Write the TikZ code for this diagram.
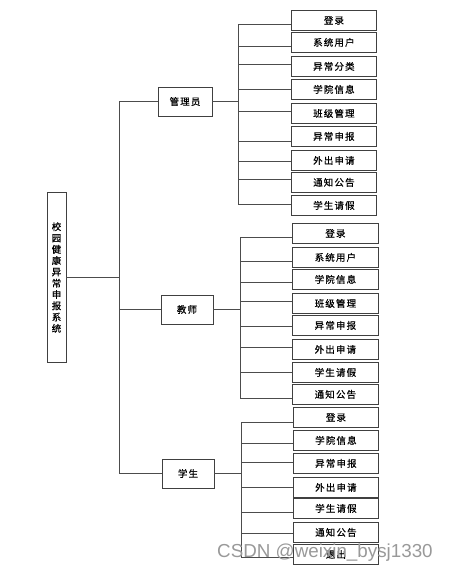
\documentclass[tikz,border=0pt]{standalone}
\usepackage{fontspec}
\setmainfont{Liberation Sans}
\newfontfamily\cjk[LetterSpace=12,FakeBold=0.6]{Noto Sans CJK SC}
\begin{document}
\begin{tikzpicture}[x=1pt,y=-1pt,
  box/.style={draw=black!75, line width=0.8pt, fill=white, inner sep=0pt,
    font=\cjk\fontsize{9.5}{11}\selectfont},
  leaf/.style={box, anchor=north west, minimum height=20pt},
  conn/.style={draw=black!70, line width=0.8pt}]
\useasboundingbox (0,0) rectangle (449,571);
% root
\node[box, minimum width=19pt, minimum height=170pt, align=center,
  font=\cjk\fontsize{9.5}{11.3}\selectfont] (root) at (56.5,277.5)
  {校\\园\\健\\康\\异\\常\\申\\报\\系\\统};
% second level
\node[box, minimum width=54pt, minimum height=29pt] (admin) at (185,101.5) {管理员};
\node[box, minimum width=52pt, minimum height=29pt] (teacher) at (187,309.5) {教师};
\node[box, minimum width=52pt, minimum height=29pt] (student) at (188,473.5) {学生};
% trunk
\coordinate (tTop) at (119,101.5);
\coordinate (tBot) at (119,473.5);
\draw[conn] (root.east) -- (root.east -| tTop);
\draw[conn] (tTop) -- (tBot);
\draw[conn] (tTop) -- (admin.west);
\draw[conn] (tTop |- teacher.west) -- (teacher.west);
\draw[conn] (tBot) -- (student.west);
% admin leaves
\foreach \i/\t/\l/\s in {1/10/24/登录, 2/32/46/系统用户, 3/56/64/异常分类, 4/79/89/学院信息,
  5/103/111/班级管理, 6/126/141/异常申报, 7/150/161/外出申请, 8/172/179/通知公告, 9/195/204/学生请假}{
  \node[leaf, minimum width=85pt] (a\i) at (291,\t) {\s};
  \coordinate (ac\i) at (238,\l);
  \draw[conn] (ac\i) -- (a\i.west |- ac\i);
}
\draw[conn] (ac1) -- (ac9);
\draw[conn] (admin.east) -- (admin.east -| ac1);
% teacher leaves
\foreach \i/\t/\l/\s in {1/223/237/登录, 2/247/261/系统用户, 3/269/282/学院信息, 4/293/301/班级管理,
  5/315/326/异常申报, 6/339/347/外出申请, 7/362/372/学生请假, 8/384/398/通知公告}{
  \node[leaf, minimum width=86pt] (b\i) at (292,\t) {\s};
  \coordinate (bc\i) at (240,\l);
  \draw[conn] (bc\i) -- (b\i.west |- bc\i);
}
\draw[conn] (bc1) -- (bc8);
\draw[conn] (teacher.east) -- (teacher.east -| bc1);
% student leaves
\foreach \i/\t/\l/\s in {1/407/422/登录, 2/430/443/学院信息, 3/453/462/异常申报, 4/477/487/外出申请,
  5/498/512/学生请假, 6/522/533/通知公告, 7/544/557/退出}{
  \node[leaf, minimum width=85pt] (c\i) at (293,\t) {\s};
  \coordinate (cc\i) at (241,\l);
  \draw[conn] (cc\i) -- (c\i.west |- cc\i);
}
\draw[conn] (cc1) -- (cc7);
\draw[conn] (student.east) -- (student.east -| cc1);
% watermark
\node[text=black!40, font=\fontsize{18.8}{18.8}\selectfont, anchor=base west, inner sep=0pt]
  (wm) at (217,557) {CSDN @weixin\_bysj1330};
\end{tikzpicture}
\end{document}
